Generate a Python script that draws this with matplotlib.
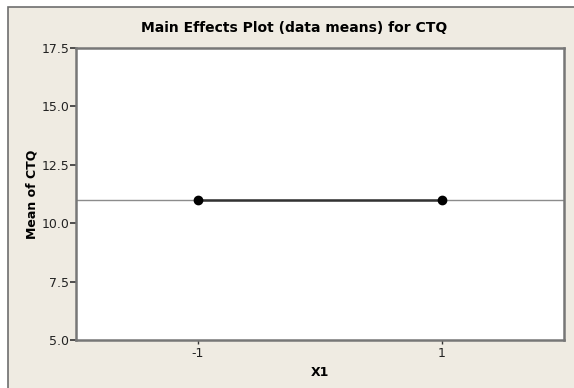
import matplotlib
matplotlib.use("Agg")
import matplotlib.pyplot as plt
from matplotlib.patches import Rectangle

levels = [-1, 1]
means = [10.99, 10.99]
overall_mean = 10.99
xtick_labels = ["-1", "1"]
yticks = [5.0, 7.5, 10.0, 12.5, 15.0, 17.5]

W, H = 574, 388
fig = plt.figure(figsize=(W / 100, H / 100), dpi=100)
fig.patch.set_facecolor("white")
bg = Rectangle((8 / W, -0.2), 1.3, (H - 7) / H + 0.2, transform=fig.transFigure,
               facecolor="#EFEBE2", edgecolor="#6E6E6E", linewidth=1.2, zorder=-10)
fig.patches.append(bg)

ax = fig.add_axes([76 / W, 1 - 340 / H, (564 - 76) / W, (340 - 48) / H])
ax.set_facecolor("white")
ax.set_xlim(-2, 2)
ax.set_ylim(5.0, 17.5)

ax.axhline(overall_mean, color="#8C8C8C", linewidth=1.0, zorder=1)
ax.plot(levels, means, color="#333333", linewidth=1.8, marker="o", markersize=6,
        markerfacecolor="black", markeredgecolor="black", zorder=3)

ax.set_xticks(levels)
ax.set_xticklabels(xtick_labels)
ax.set_yticks(yticks)
ax.set_yticklabels([f"{v:.1f}" for v in yticks])

for s in ax.spines.values():
    s.set_color("#777777")
    s.set_linewidth(1.8)
ax.tick_params(axis="y", direction="out", length=4, width=1.2, color="#333333",
               labelsize=9, labelcolor="#222222", pad=1)
ax.tick_params(axis="x", direction="out", length=3, width=1.0, color="#333333",
               labelsize=9, labelcolor="#222222", pad=2)

ax.set_xlabel("X1", fontsize=9, fontweight="bold", labelpad=4)
ax.set_ylabel("Mean of CTQ", fontsize=9, fontweight="bold", labelpad=2)

fig.text(294 / W, 1 - 28 / H, "Main Effects Plot (data means) for CTQ",
         ha="center", va="center", fontsize=10, fontweight="bold")

fig.savefig("out.png", dpi=100)
